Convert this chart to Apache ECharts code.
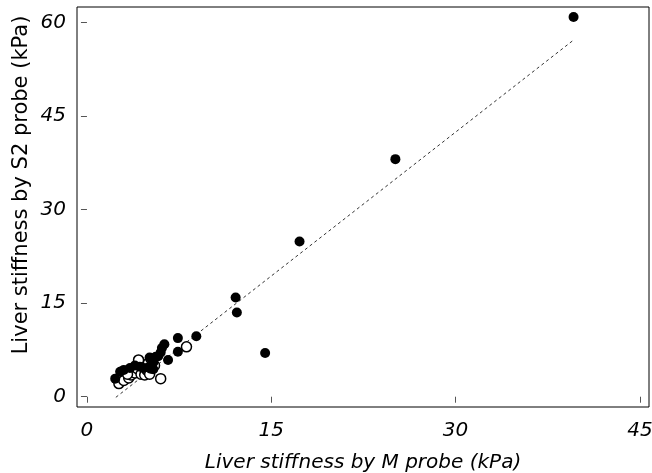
<!DOCTYPE html>
<html>
<head>
<meta charset="utf-8">
<script src="https://cdn.jsdelivr.net/npm/echarts@6/dist/echarts.min.js"></script>
<style>
html,body{margin:0;padding:0;background:#fff;}
#chart{width:652px;height:473px;}
</style>
</head>
<body>
<div id="chart"></div>
<script>
// Filled circles (M probe kPa, S2 probe kPa)
const filledX = [2.3, 2.7, 3.0, 3.5, 3.9, 4.3, 4.6, 5.0, 5.1, 5.4, 5.6, 5.8, 6.0, 6.1, 6.3, 6.6, 5.4, 7.4, 7.4, 8.9, 12.1, 12.2, 14.5, 17.3, 25.1, 39.6];
const filledY = [2.9, 4.0, 4.3, 4.6, 5.0, 4.8, 4.6, 4.7, 6.3, 5.5, 6.4, 6.5, 7.1, 7.8, 8.4, 5.9, 4.4, 9.4, 7.2, 9.7, 15.9, 13.5, 7.0, 24.9, 38.1, 60.9];
// Open circles
const openX = [2.6, 3.0, 3.4, 3.6, 3.9, 4.1, 4.2, 4.4, 4.7, 4.9, 5.0, 5.1, 5.2, 5.5, 5.2, 6.0, 8.1, 3.3];
const openY = [2.1, 2.6, 3.0, 3.5, 3.8, 4.5, 5.9, 3.6, 3.5, 4.2, 5.4, 3.6, 6.1, 5.0, 4.6, 2.9, 8.0, 3.6];
// Fitted line endpoints
const fitX = [2.35, 39.6];
const fitY = [-0.1, 57.2];
// Tick labels
const xTicks = [0, 15, 30, 45];
const yTicks = [0, 15, 30, 45, 60];

const zip = (a, b) => a.map((v, i) => [v, b[i]]);
const FONT = 'DejaVu Sans';

const chart = echarts.init(document.getElementById('chart'));
chart.setOption({
  animation: false,
  backgroundColor: '#fff',
  grid: {left: 77, top: 7, right: 3, bottom: 66, containLabel: false, outerBoundsMode: 'none', show: true, borderColor: '#000', borderWidth: 1, backgroundColor: 'transparent'},
  xAxis: {
    type: 'value', min: -0.81, max: 45.74,
    axisLine: {show: false},
    splitLine: {show: false},
    axisTick: {show: true, length: 6, customValues: xTicks, lineStyle: {color: '#555', width: 1}},
    axisLabel: {customValues: xTicks, margin: 14, fontFamily: FONT, fontStyle: 'italic', fontSize: 20, color: '#000'},
    name: 'Liver stiffness by M probe (kPa)', nameLocation: 'middle', nameGap: 46,
    nameTextStyle: {fontFamily: FONT, fontStyle: 'italic', fontSize: 20, color: '#000'}
  },
  yAxis: {
    type: 'value', min: -1.65, max: 62.5,
    axisLine: {show: false},
    splitLine: {show: false},
    axisTick: {show: true, length: 6, customValues: yTicks, lineStyle: {color: '#555', width: 1}},
    axisLabel: {customValues: yTicks, margin: 11, fontFamily: FONT, fontStyle: 'italic', fontSize: 20, color: '#000'}
  },
  graphic: [{
    type: 'text', x: 22, y: 185, rotation: Math.PI / 2,
    style: {text: 'Liver stiffness by S2 probe (kPa)', fontFamily: FONT, fontSize: 21, fill: '#000', align: 'center', verticalAlign: 'middle'}
  }],
  series: [
    {type: 'line', data: zip(fitX, fitY), symbol: 'none', lineStyle: {color: '#333', width: 1, type: [3, 3]}, z: 1},
    {type: 'scatter', data: zip(openX, openY), symbol: 'circle', symbolSize: 10, itemStyle: {color: '#fff', borderColor: '#000', borderWidth: 1.5, opacity: 1}, z: 2},
    {type: 'scatter', data: zip(filledX, filledY), symbol: 'circle', symbolSize: 10, itemStyle: {color: '#000', borderColor: '#000', borderWidth: 0, opacity: 1}, z: 3}
  ]
});
</script>
</body>
</html>
